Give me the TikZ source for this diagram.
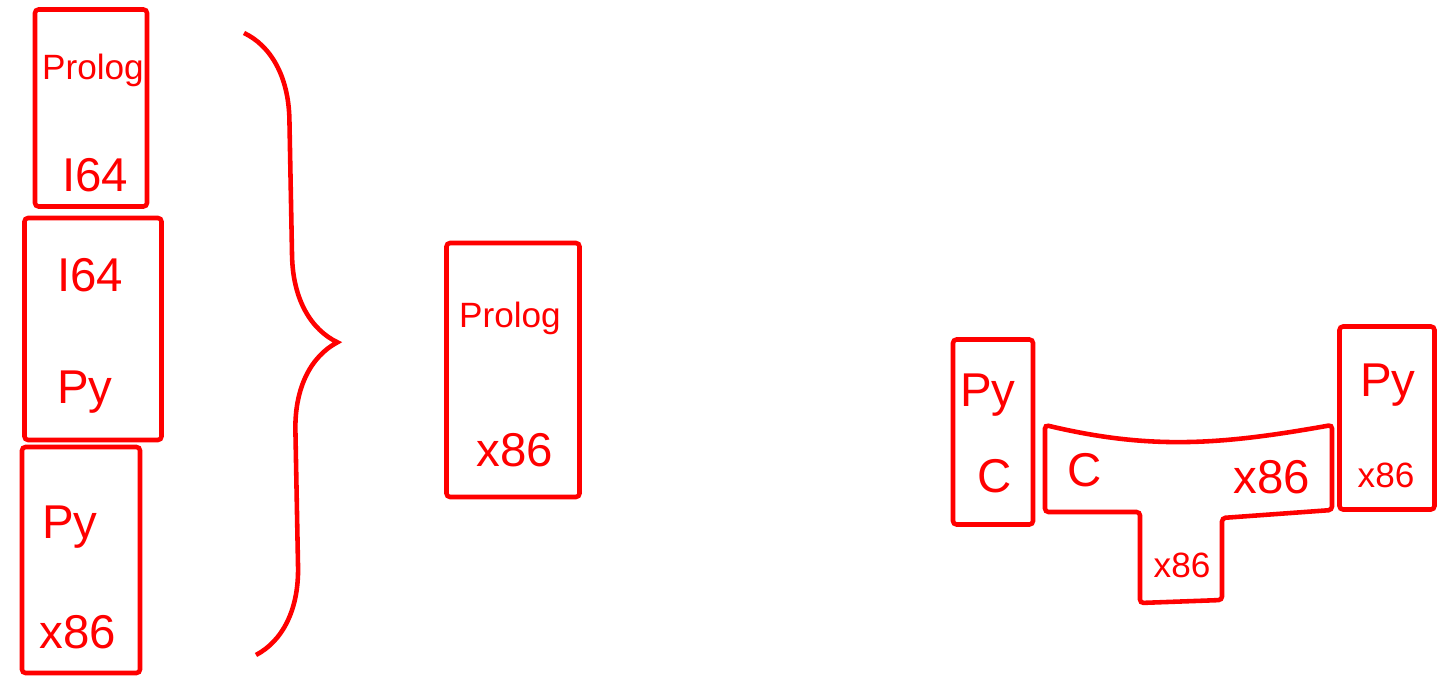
\documentclass[tikz,border=0pt]{standalone}
\usepackage{fontspec}
\setmainfont{Liberation Sans}
\usepackage{tikz}
\usetikzlibrary{positioning, decorations.pathreplacing}

\begin{document}
\begin{tikzpicture}[
        x=0.02cm, y=-0.02cm,
        box/.style={rectangle, draw=red, line width=2.6pt, rounded corners=2pt},
        lbl/.style={text=red, font=\fontsize{27}{29}\selectfont, inner sep=0pt},
        small/.style={lbl, font=\fontsize{20}{22}\selectfont},
        brace/.style={draw=red, line width=2.6pt, decorate, decoration={brace, amplitude=1.75cm}},
    ]
        \useasboundingbox (0,0) rectangle (1437,678);

        % Left stack
        \node[box, minimum width=2.24cm, minimum height=3.94cm] (prologImp) at (91,108) {};
        \node[small] (prologA) at (93,70) {Prolog};
        \node[lbl] (iA) at (95,175) {I64};
        \node[box, minimum width=2.74cm, minimum height=4.44cm] (iImp) at (93,329) {};
        \node[lbl] (iB) at (90,275) {I64};
        \node[lbl] (pyA) at (85,392) {Py};
        \node[box, minimum width=2.36cm, minimum height=4.52cm] (pyImp) at (81,560) {};
        \node[lbl] (pyB) at (70,527) {Py};
        \node[lbl] (xA) at (78,632) {x86};

        % Brace
        \coordinate (braceTop) at (244,33);
        \coordinate (braceBot) at (256,655);
        \draw[brace] (braceTop) -- (braceBot);

        % Result
        \node[box, minimum width=2.66cm, minimum height=5.08cm] (prologX) at (513,370) {};
        \node[small] (prologB) at (510,318) {Prolog};
        \node[lbl] (xB) at (515,450) {x86};

        % Compiling the interpreter
        \node[box, minimum width=1.6cm, minimum height=3.7cm] (pySrc) at (993,432) {};
        \node[lbl] (pyC) at (988,395) {Py};
        \node[lbl] (cA) at (995,476) {C};

        \coordinate (tA) at (1045,425);
        \coordinate (tB) at (1332,425);
        \coordinate (tC) at (1332,510);
        \coordinate (tD) at (1222,518);
        \coordinate (tE) at (1222,600);
        \coordinate (tF) at (1140,603);
        \coordinate (tG) at (1140,512);
        \coordinate (tH) at (1045,512);
        \draw[red, line width=2.6pt, rounded corners=2pt]
            (tA) .. controls (1150,450) and (1220,445) .. (tB) -- (tC) -- (tD) -- (tE) -- (tF) -- (tG) -- (tH) -- cycle;
        \node[lbl] (cB) at (1085,470) {C};
        \node[lbl] (xC) at (1272,477) {x86};
        \node[small] (xD) at (1182,565) {x86};

        \node[box, minimum width=1.9cm, minimum height=3.66cm] (pyX) at (1387,418) {};
        \node[lbl] (pyD) at (1388,385) {Py};
        \node[small] (xE) at (1386,475) {x86};

    \end{tikzpicture}
\end{document}
